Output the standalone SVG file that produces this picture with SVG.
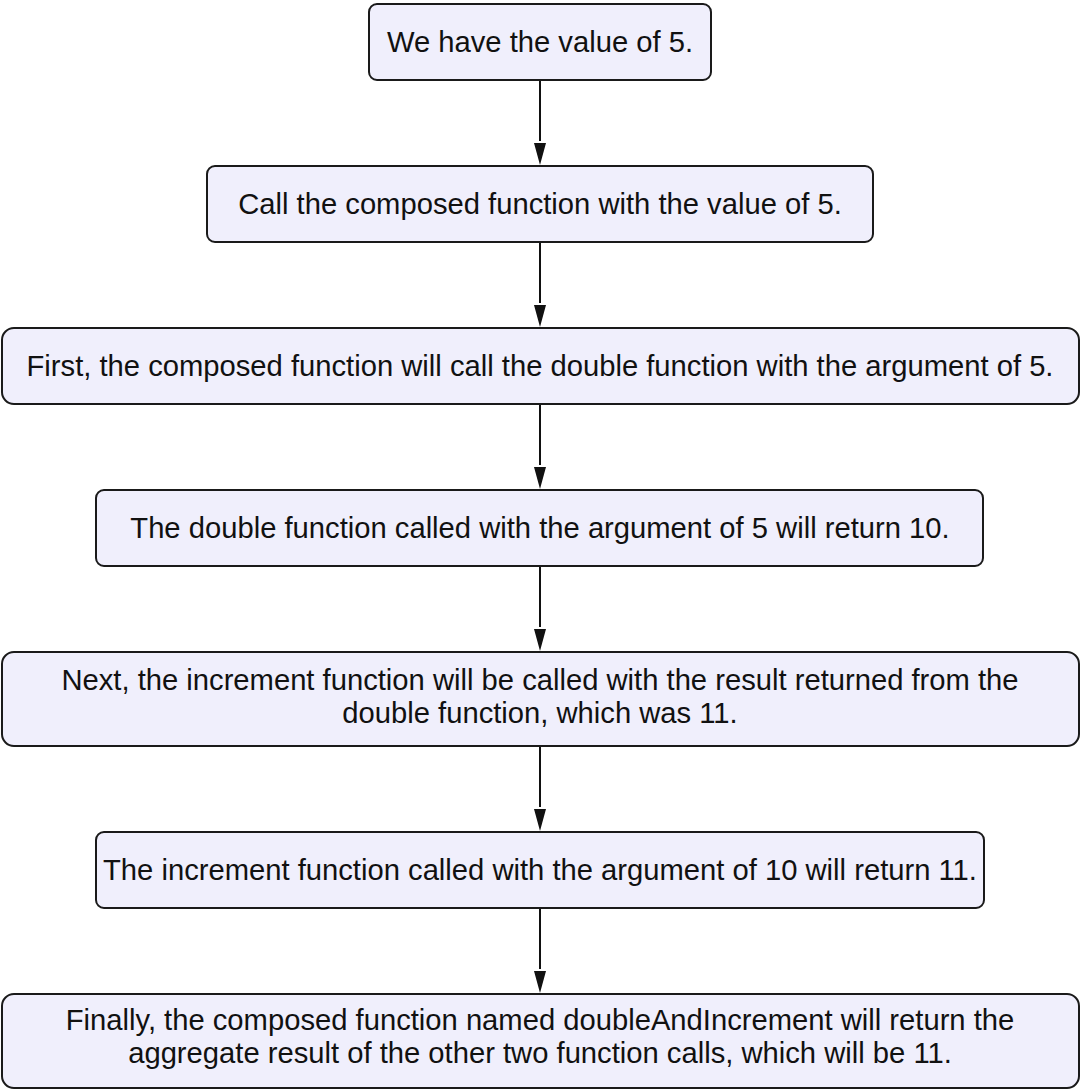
<svg xmlns="http://www.w3.org/2000/svg" width="1083" height="1092" viewBox="0 0 1083 1092">
<style>
.node rect{fill:#f0effc;stroke:#1a1a1a;stroke-width:2}
.node text{font-family:"Liberation Sans",Arial,sans-serif;font-size:29.2px;fill:#111;text-anchor:middle}
.edge{stroke:#111;stroke-width:2;fill:none}
.head{fill:#111}
</style>
<rect width="1083" height="1092" fill="#fff"/>
<g id="connectors">
<line class="edge" x1="540" y1="80" x2="540" y2="141"/>
<path class="head" d="M534,143 L546,143 L540,165 Z"/>
<line class="edge" x1="540" y1="242" x2="540" y2="303"/>
<path class="head" d="M534,305 L546,305 L540,327 Z"/>
<line class="edge" x1="540" y1="404" x2="540" y2="465"/>
<path class="head" d="M534,467 L546,467 L540,489 Z"/>
<line class="edge" x1="540" y1="566" x2="540" y2="627"/>
<path class="head" d="M534,629 L546,629 L540,651 Z"/>
<line class="edge" x1="540" y1="746" x2="540" y2="807"/>
<path class="head" d="M534,809 L546,809 L540,831 Z"/>
<line class="edge" x1="540" y1="908" x2="540" y2="969"/>
<path class="head" d="M534,971 L546,971 L540,993 Z"/>
</g>
<g id="n1" class="node">
<rect x="369" y="4" width="342" height="76" rx="8"/>
<text x="540" y="52">We have the value of 5.</text>
</g>
<g id="n2" class="node">
<rect x="207" y="166" width="666" height="76" rx="8"/>
<text x="540" y="214">Call the composed function with the value of 5.</text>
</g>
<g id="n3" class="node">
<rect x="2" y="328" width="1077" height="76" rx="12"/>
<text x="540" y="376">First, the composed function will call the double function with the argument of 5.</text>
</g>
<g id="n4" class="node">
<rect x="96" y="490" width="887" height="76" rx="8"/>
<text x="540" y="538">The double function called with the argument of 5 will return 10.</text>
</g>
<g id="n5" class="node">
<rect x="2" y="652" width="1077" height="94" rx="12"/>
<text x="540" y="690">Next, the increment function will be called with the result returned from the</text>
<text x="540" y="723">double function, which was 11.</text>
</g>
<g id="n6" class="node">
<rect x="96" y="832" width="888" height="76" rx="8"/>
<text x="540" y="880">The increment function called with the argument of 10 will return 11.</text>
</g>
<g id="n7" class="node">
<rect x="2" y="994" width="1077" height="94" rx="12"/>
<text x="540" y="1030">Finally, the composed function named doubleAndIncrement will return the</text>
<text x="540" y="1063">aggregate result of the other two function calls, which will be 11.</text>
</g>
</svg>
